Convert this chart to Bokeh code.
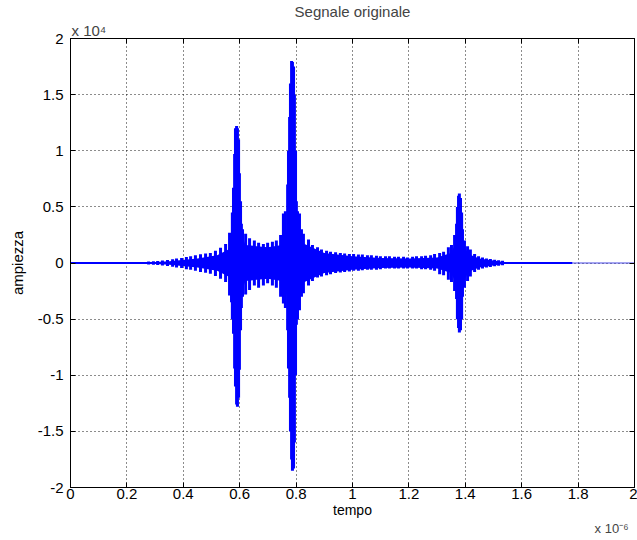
from bokeh.plotting import figure
from bokeh.models import Range1d, FixedTicker, LinearAxis, Title, NumeralTickFormatter
from bokeh.embed import file_html
from bokeh.resources import INLINE

# ---- data (time in units of 1e-6 s, amplitude in units of 1e4) ----
x_ticks = [0, 0.2, 0.4, 0.6, 0.8, 1.0, 1.2, 1.4, 1.6, 1.8, 2.0]
y_ticks = [-2, -1.5, -1, -0.5, 0, 0.5, 1, 1.5, 2]

# individual oscillation bursts ("teeth")
tooth_t = [0.277, 0.294, 0.309, 0.326, 0.344, 0.362, 0.376, 0.394, 0.411, 0.426,
           0.443, 0.461, 0.479, 0.496, 0.514, 0.532, 0.550, 0.564, 0.571,
           0.574, 0.578, 0.582, 0.585, 0.589, 0.592, 0.596, 0.599, 0.603, 0.606,
           0.610, 0.621, 0.635, 0.652, 0.667, 0.684, 0.699, 0.716, 0.730, 0.745,
           0.755, 0.762, 0.770, 0.773, 0.777, 0.780, 0.784, 0.787, 0.791, 0.794,
           0.798, 0.801, 0.805, 0.812, 0.819,
           0.826, 0.844, 0.858, 0.876, 0.890, 0.908, 0.922, 0.940, 0.957, 0.972,
           0.989, 1.004, 1.021, 1.035, 1.053, 1.067, 1.085, 1.099, 1.117, 1.131,
           1.149, 1.163, 1.181, 1.195, 1.213, 1.227, 1.245, 1.259, 1.277, 1.291,
           1.309, 1.323, 1.340, 1.351, 1.362, 1.369, 1.372, 1.376, 1.379, 1.383,
           1.387, 1.390, 1.397, 1.408, 1.418, 1.433, 1.447, 1.461, 1.475, 1.489,
           1.504, 1.518, 1.532]
tooth_hi = [0.013, 0.015, 0.018, 0.022, 0.027, 0.033, 0.04, 0.045, 0.054, 0.06,
            0.07, 0.078, 0.085, 0.09, 0.11, 0.135, 0.17, 0.27, 0.25,
            0.45, 0.67, 0.97, 1.2, 1.22, 1.2, 1.1, 0.8, 0.55, 0.35,
            0.3, 0.26, 0.22, 0.2, 0.18, 0.17, 0.18, 0.19, 0.2, 0.25,
            0.44, 0.46, 0.7, 1.0, 1.3, 1.6, 1.8, 1.79, 1.75, 1.5,
            1.0, 0.55, 0.46, 0.44, 0.3,
            0.26, 0.21, 0.16, 0.14, 0.12, 0.11, 0.1, 0.095, 0.09, 0.085,
            0.08, 0.08, 0.075, 0.075, 0.07, 0.07, 0.065, 0.06, 0.06, 0.06,
            0.055, 0.055, 0.055, 0.05, 0.055, 0.06, 0.06, 0.065, 0.07, 0.08,
            0.09, 0.1, 0.14, 0.16, 0.25, 0.35, 0.5, 0.6, 0.62, 0.58,
            0.45, 0.3, 0.2, 0.15, 0.12, 0.08, 0.06, 0.05, 0.04, 0.035,
            0.03, 0.025, 0.02]
tooth_lo = [-0.013, -0.015, -0.018, -0.022, -0.027, -0.033, -0.04, -0.045, -0.055, -0.06,
            -0.07, -0.08, -0.087, -0.095, -0.115, -0.14, -0.17, -0.29, -0.35,
            -0.5, -0.63, -0.94, -1.1, -1.26, -1.28, -1.2, -0.95, -0.6, -0.4,
            -0.3, -0.28, -0.24, -0.2, -0.22, -0.2, -0.18, -0.2, -0.22, -0.3,
            -0.36, -0.4, -0.6, -0.94, -1.2, -1.5, -1.75, -1.85, -1.83, -1.6,
            -1.0, -0.55, -0.5, -0.42, -0.3,
            -0.27, -0.2, -0.16, -0.13, -0.12, -0.11, -0.1, -0.09, -0.085, -0.08,
            -0.075, -0.07, -0.07, -0.065, -0.06, -0.06, -0.06, -0.055, -0.05, -0.05,
            -0.05, -0.05, -0.05, -0.05, -0.05, -0.05, -0.055, -0.055, -0.06, -0.07,
            -0.1, -0.11, -0.15, -0.17, -0.25, -0.32, -0.5, -0.58, -0.62, -0.6,
            -0.5, -0.3, -0.22, -0.16, -0.12, -0.08, -0.06, -0.05, -0.04, -0.035,
            -0.03, -0.025, -0.02]

# solid core of the dense oscillation
core_t = [0.27, 0.35, 0.45, 0.52, 0.56, 0.575, 0.605, 0.62, 0.70, 0.75, 0.77,
          0.805, 0.83, 0.90, 1.0, 1.1, 1.2, 1.3, 1.35, 1.37, 1.39, 1.41, 1.45, 1.53]
core_hi = [0.005, 0.015, 0.04, 0.07, 0.12, 0.28, 0.28, 0.16, 0.14, 0.16, 0.3,
           0.3, 0.17, 0.09, 0.06, 0.045, 0.04, 0.05, 0.09, 0.2, 0.2, 0.08, 0.04, 0.012]
core_lo = [-0.005, -0.015, -0.04, -0.07, -0.12, -0.28, -0.28, -0.16, -0.14, -0.16, -0.3,
           -0.3, -0.17, -0.09, -0.06, -0.045, -0.04, -0.05, -0.09, -0.2, -0.2, -0.08, -0.04, -0.012]

# flat (zero) parts of the signal
flat_t = [0.0, 1.78]
flat_v = [0.0, 0.0]
tail_t = [1.78, 2.0]
tail_v = [0.0, 0.0]

FONT = "Liberation Sans"
FS = "15px"

p = figure(width=637, height=540, x_range=Range1d(0, 2), y_range=Range1d(-2, 2),
           output_backend="svg", toolbar_location=None,
           min_border_left=70, min_border_right=3, min_border_top=38, min_border_bottom=53)
p.outline_line_color = "black"
p.background_fill_color = "white"
p.border_fill_color = "white"

p.title.text = "Segnale originale"
p.title.align = "center"
p.title.text_font = FONT
p.title.text_font_size = FS
p.title.text_font_style = "normal"
p.title.standoff = 0

xt = FixedTicker(ticks=x_ticks)
yt = FixedTicker(ticks=y_ticks)

for ax, tk in ((p.xaxis[0], xt), (p.yaxis[0], yt)):
    ax.ticker = tk
    ax.formatter = NumeralTickFormatter(format="0.[0]")
    ax.major_tick_in = 5
    ax.major_tick_out = 0
    ax.minor_tick_line_color = None
    ax.axis_line_color = "black"
    ax.major_tick_line_color = "black"
    ax.major_label_text_font = FONT
    ax.major_label_text_font_size = FS
    ax.major_label_text_color = "black"
    ax.axis_label_text_font = FONT
    ax.axis_label_text_font_size = FS
    ax.axis_label_text_font_style = "normal"
    ax.axis_label_text_color = "black"
p.xaxis[0].major_label_standoff = 1
p.xaxis[0].axis_label = "tempo"
p.xaxis[0].axis_label_standoff = 0
p.xaxis[0].axis_label_text_font_size = "14px"
p.yaxis[0].major_label_standoff = 7
p.yaxis[0].axis_label = "ampiezza"
p.yaxis[0].axis_label_standoff = 9

top = LinearAxis(ticker=xt, major_tick_in=5, major_tick_out=0, minor_tick_line_color=None,
                 major_label_text_font_size="0px", major_label_standoff=0)
right = LinearAxis(ticker=yt, major_tick_in=5, major_tick_out=0, minor_tick_line_color=None,
                   major_label_text_font_size="0px", major_label_standoff=0)
p.add_layout(top, "above")
p.add_layout(right, "right")

# exponent notes, as in the original figure
p.add_layout(Title(text="x 10\u2074", align="left", offset=1, standoff=0,
                   text_font=FONT, text_font_size=FS, text_font_style="normal"), "above")
p.add_layout(Title(text="x 10\u207b\u2076", align="right", offset=6, standoff=0,
                   vertical_align="top", text_line_height=1.0,
                   text_font=FONT, text_font_size="13px", text_font_style="normal"), "below")

p.xgrid.ticker = xt
p.ygrid.ticker = yt
for g in (p.xgrid[0], p.ygrid[0]):
    g.grid_line_color = "black"
    g.grid_line_dash = "1 3"
    g.grid_line_width = 1
    g.grid_line_alpha = 0.9

BLUE = "#0000ff"
p.line(flat_t, flat_v, line_color=BLUE, line_width=2)
p.line(tail_t, tail_v, line_color="#4a4ae8", line_width=1.2)
p.varea(x=core_t, y1=core_lo, y2=core_hi, fill_color=BLUE)
p.segment(x0=tooth_t, y0=tooth_lo, x1=tooth_t, y1=tooth_hi, line_color=BLUE, line_width=3)

open("out.html", "w").write(file_html(p, INLINE))
